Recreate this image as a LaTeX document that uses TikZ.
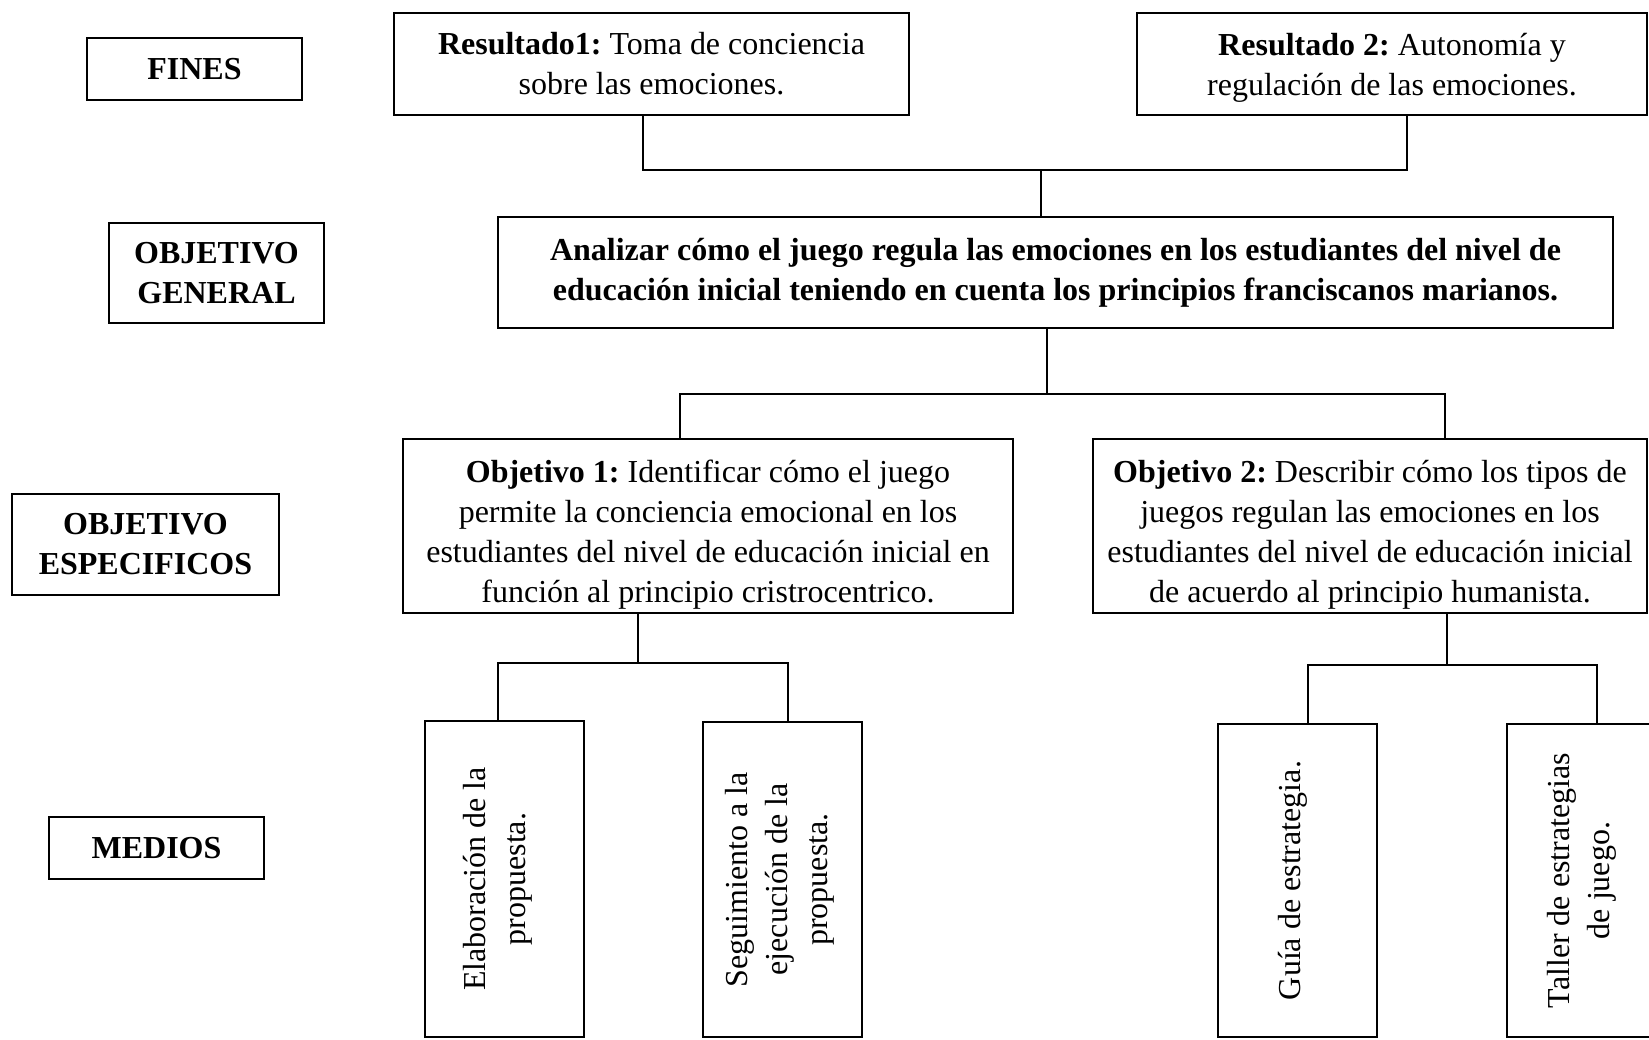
\documentclass[tikz,border=0pt]{standalone}
\usepackage{fontspec}
\setmainfont{Liberation Serif}
\usepackage{graphicx}
\frenchspacing
\newcommand\bodyfs{\fontsize{32}{40}\selectfont\frenchspacing}
\newcommand\lowered[2]{\raisebox{#1}[\height][\depth]{\begin{tabular}{@{}c@{}}#2\end{tabular}}}
\begin{document}
\begin{tikzpicture}[x=1pt,y=-1pt,
  box/.style={draw, line width=1.6pt, align=center, inner sep=0pt, font=\bodyfs},
  lbl/.style={box, font=\bodyfs\bfseries},
  conn/.style={line width=1.6pt}]
\useasboundingbox (0,0) rectangle (1649,1039);
\clip (0,0) rectangle (1649,1039);
% left labels
\node[lbl, minimum width=215pt, minimum height=62pt] (fines) at (194.5,69) {FINES};
\node[lbl, minimum width=215pt, minimum height=100pt] (og) at (216.5,273) {OBJETIVO\\GENERAL};
\node[lbl, minimum width=267pt, minimum height=101pt] (oe) at (145.5,544.5) {OBJETIVO\\ESPECIFICOS};
\node[lbl, minimum width=215pt, minimum height=62pt] (medios) at (156.5,848) {MEDIOS};
% fines
\node[box, minimum width=515pt, minimum height=102pt] (r1) at (651.5,64) {\textbf{Resultado1:} Toma de conciencia\\sobre las emociones.};
\node[box, minimum width=510pt, minimum height=102pt] (r2) at (1392,64) {\lowered{-3pt}{\textbf{Resultado 2:} Autonomía y\\regulación de las emociones.}};
% general
\node[box, font=\bodyfs\bfseries, minimum width=1115pt, minimum height=111pt] (gen) at (1055.5,272.5) {Analizar cómo el juego regula las emociones en los estudiantes del nivel de\\educación inicial teniendo en cuenta los principios franciscanos marianos.};
% specific
\node[box, minimum width=610pt, minimum height=174pt] (o1) at (708,526) {\lowered{-8pt}{\textbf{Objetivo 1:} Identificar cómo el juego\\permite la conciencia emocional en los\\estudiantes del nivel de educación inicial en\\función al principio cristrocentrico.}};
\node[box, minimum width=554pt, minimum height=174pt] (o2) at (1370,526) {\lowered{-8pt}{\textbf{Objetivo 2:} Describir cómo los tipos de\\juegos regulan las emociones en los\\estudiantes del nivel de educación inicial\\de acuerdo al principio humanista.}};
% medios
\node[box, minimum width=159pt, minimum height=316pt] (m1) at (504.5,879) {\hspace*{-14pt}\rotatebox{90}{\begin{tabular}{@{}c@{}}Elaboración de la\\propuesta.\end{tabular}}};
\node[box, minimum width=159pt, minimum height=315pt] (m2) at (782.5,879.5) {\hspace*{-6pt}\rotatebox{90}{\begin{tabular}{@{}c@{}}Seguimiento a la\\ejecución de la\\propuesta.\end{tabular}}};
\node[box, minimum width=159pt, minimum height=313pt] (m3) at (1297.5,880.5) {\hspace*{-10pt}\rotatebox{90}{Guía de estrategia.}};
\node[box, minimum width=159pt, minimum height=313pt] (m4) at (1586.5,880.5) {\hspace*{-10pt}\rotatebox{90}{\begin{tabular}{@{}c@{}}Taller de estrategias\\de juego.\end{tabular}}};
% connectors
\coordinate (a0) at (1041,170); \coordinate (a1) at (643,170); \coordinate (a2) at (1407,170);
\draw[conn] (r1.south -| a1) -- (a1) -- (a2) -- (r2.south -| a2);
\draw[conn] (a0) -- (gen.north -| a0);
\coordinate (b0) at (1047,394); \coordinate (b1) at (680,394); \coordinate (b2) at (1445,394);
\draw[conn] (gen.south -| b0) -- (b0);
\draw[conn] (o1.north -| b1) -- (b1) -- (b2) -- (o2.north -| b2);
\coordinate (c0) at (638,663); \coordinate (c1) at (498,663); \coordinate (c2) at (788,663);
\draw[conn] (o1.south -| c0) -- (c0);
\draw[conn] (m1.north -| c1) -- (c1) -- (c2) -- (m2.north -| c2);
\coordinate (d0) at (1447,665); \coordinate (d1) at (1308,665); \coordinate (d2) at (1597,665);
\draw[conn] (o2.south -| d0) -- (d0);
\draw[conn] (m3.north -| d1) -- (d1) -- (d2) -- (m4.north -| d2);
\end{tikzpicture}
\end{document}
